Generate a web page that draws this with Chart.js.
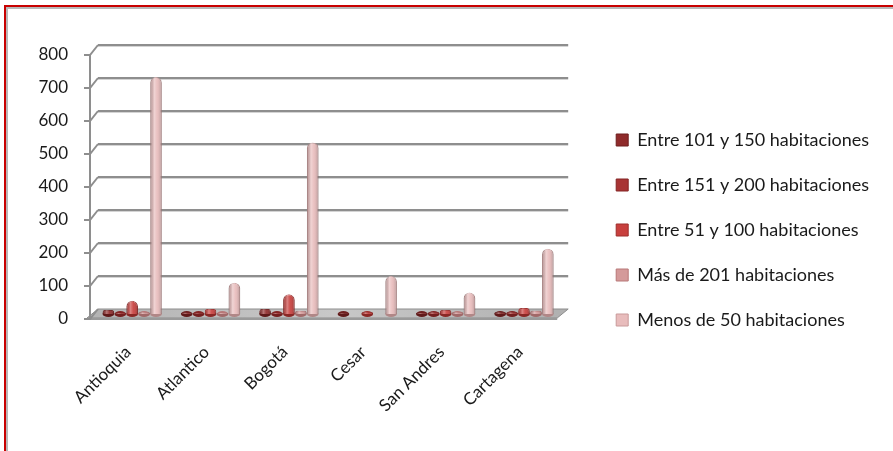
<!DOCTYPE html>
<html>
<head>
<meta charset="utf-8">
<title>Hoteles por número de habitaciones</title>
<script src="https://cdn.jsdelivr.net/npm/chart.js@4.4.0/dist/chart.umd.min.js"></script>
<style>
  html, body { margin: 0; padding: 0; background: #fff; overflow: hidden; }
  #marco {
    position: absolute; left: 4px; top: 5px; width: 1000px; height: 1000px;
    border-left: 2px solid #c80000; border-top: 2px solid #c80000;
    box-shadow: inset 2px 2px 0 #b8b8b8;
  }
  #grafico { position: absolute; left: 0; top: 0; }
</style>
</head>
<body>
<div id="marco"></div>
<canvas id="grafico" width="893" height="451"></canvas>
<script>
// categorías y series
const categorias = ['Antioquia', 'Atlantico', 'Bogotá', 'Cesar', 'San Andres', 'Cartagena'];
const entre101y150 = [12, 4, 15, 2, 3, 5];
const entre151y200 = [3, 2, 3, 0, 5, 5];
const entre51y100 = [40, 15, 60, 5, 12, 18];
const masDe201 = [5, 3, 10, 0, 5, 10];
const menosDe50 = [718, 95, 520, 115, 65, 198];
const ticksY = [0, 100, 200, 300, 400, 500, 600, 700, 800];

const fuenteEjes = { family: 'Lato', size: 17 };
const fuenteLeyenda = { family: 'Lato', size: 18 };

function serie(nombre, datos, relleno, borde) {
  return {
    label: nombre,
    data: datos,
    backgroundColor: relleno,
    borderColor: borde,
    borderWidth: 1,
    borderRadius: { topLeft: 6, topRight: 6 },
    borderSkipped: 'start',
    categoryPercentage: 0.76,
    barPercentage: 0.97
  };
}

// pared, suelo y sombreado de los cilindros (imitación 3D)
const DX = 8, DY = 10;      // desplazamiento fondo -> frente
const pared3d = {
  id: 'pared3d',
  beforeDatasetsDraw(chart) {
    const { ctx, chartArea: a, scales: { y } } = chart;
    const y0 = y.getPixelForValue(0);
    ctx.save();
    // suelo
    ctx.beginPath();
    ctx.moveTo(a.left, y0);
    ctx.lineTo(a.right, y0);
    ctx.lineTo(a.right - DX - 3, y0 + DY - 1);
    ctx.lineTo(a.left - DX - 3, y0 + DY - 1);
    ctx.closePath();
    const g = ctx.createLinearGradient(a.left, 0, a.right, 0);
    g.addColorStop(0, '#b4b4b4');
    g.addColorStop(0.5, '#c8c8c8');
    g.addColorStop(1, '#b0b0b0');
    ctx.fillStyle = g;
    ctx.fill();
    ctx.strokeStyle = '#8c8c8c';
    ctx.lineWidth = 1;
    ctx.stroke();
    ctx.fillStyle = '#9a9a9a';
    ctx.fillRect(a.left - DX - 3, y0 + DY - 1, a.right - a.left, 2);
    // líneas de división en la pared de fondo
    ticksY.forEach(v => {
      const py = Math.round(y.getPixelForValue(v));
      if (v > 0) {
        ctx.fillStyle = '#8e8e8e';
        ctx.fillRect(a.left, py - 1, a.right - a.left, 2);
        ctx.fillStyle = '#d4d4d4';
        ctx.fillRect(a.left, py + 1, a.right - a.left, 1);
      }
      // marca del eje y conector oblicuo
      ctx.strokeStyle = '#8e8e8e';
      ctx.lineWidth = 2;
      ctx.beginPath();
      ctx.moveTo(a.left - DX - 6, py + DY);
      ctx.lineTo(a.left - DX, py + DY);
      ctx.lineTo(a.left, py);
      ctx.stroke();
    });
    ctx.beginPath();
    ctx.moveTo(a.left - DX, y.getPixelForValue(800) + DY);
    ctx.lineTo(a.left - DX, y0 + DY);
    ctx.stroke();
    ctx.restore();

    // las barras se dibujan a media profundidad
    ctx.save();
    ctx.translate(-5, 5);
    chart.data.datasets.forEach((ds, i) => {
      chart.getDatasetMeta(i).data.forEach((bar, j) => {
        if (!ds.data[j]) return;
        ctx.beginPath();
        ctx.ellipse(bar.x, bar.base, bar.width / 2, 3, 0, 0, Math.PI * 2);
        ctx.fillStyle = ds.borderColor;
        ctx.fill();
      });
    });
  },
  afterDatasetsDraw(chart) {
    const { ctx } = chart;
    chart.data.datasets.forEach((ds, i) => {
      chart.getDatasetMeta(i).data.forEach((bar, j) => {
        if (!ds.data[j]) return;
        const w = bar.width, x = bar.x - w / 2, h = bar.base - bar.y;
        const g = ctx.createLinearGradient(x, 0, x + w, 0);
        g.addColorStop(0, 'rgba(0,0,0,0.18)');
        g.addColorStop(0.35, 'rgba(255,255,255,0.35)');
        g.addColorStop(0.6, 'rgba(255,255,255,0.08)');
        g.addColorStop(1, 'rgba(0,0,0,0.22)');
        ctx.beginPath();
        ctx.roundRect(x, bar.y, w, h, [Math.min(6, h), Math.min(6, h), 0, 0]);
        ctx.fillStyle = g;
        ctx.fill();
        ctx.beginPath();
        ctx.ellipse(bar.x, bar.base, w / 2, 3, 0, 0, Math.PI);
        ctx.fillStyle = 'rgba(0,0,0,0.12)';
        ctx.fill();
      });
    });
    ctx.restore();
  }
};

new Chart(document.getElementById('grafico'), {
  type: 'bar',
  data: {
    labels: categorias,
    datasets: [
      serie('Entre 101 y 150 habitaciones', entre101y150, '#8f2b2b', '#6e1e1e'),
      serie('Entre 151 y 200 habitaciones', entre151y200, '#a83434', '#842424'),
      serie('Entre 51 y 100 habitaciones', entre51y100, '#c8403e', '#9e2e2c'),
      serie('Más de 201 habitaciones', masDe201, '#d49a9a', '#b87878'),
      serie('Menos de 50 habitaciones', menosDe50, '#e8bcbc', '#c99a9a')
    ]
  },
  options: {
    responsive: false,
    animation: false,
    layout: { padding: { top: 45, right: 14, bottom: 36, left: 0 } },
    scales: {
      x: {
        grid: { display: false, drawTicks: false },
        border: { display: false },
        ticks: { maxRotation: 45, minRotation: 45, padding: 33, labelOffset: -9, color: '#1a1a1a', font: fuenteEjes },
        afterFit(s) { s.height = 106; }
      },
      y: {
        min: 0, max: 800,
        afterBuildTicks(s) { s.ticks = ticksY.map(v => ({ value: v })); },
        grid: { display: false, drawTicks: false },
        border: { display: false },
        ticks: { labelOffset: 10, padding: 30, color: '#1a1a1a', font: fuenteEjes },
        afterFit(s) { s.width = 98; }
      },
      y2: {
        type: 'linear',
        position: 'right',
        grid: { display: false, drawTicks: false },
        border: { display: false },
        ticks: { display: false },
        afterFit(s) { s.width = 21; }
      }
    },
    plugins: {
      legend: {
        position: 'right',
        maxWidth: 400,
        labels: { boxWidth: 12, boxHeight: 12, padding: 27, color: '#1a1a1a', font: fuenteLeyenda }
      },
      tooltip: { enabled: false }
    }
  },
  plugins: [pared3d]
});
</script>
</body>
</html>
